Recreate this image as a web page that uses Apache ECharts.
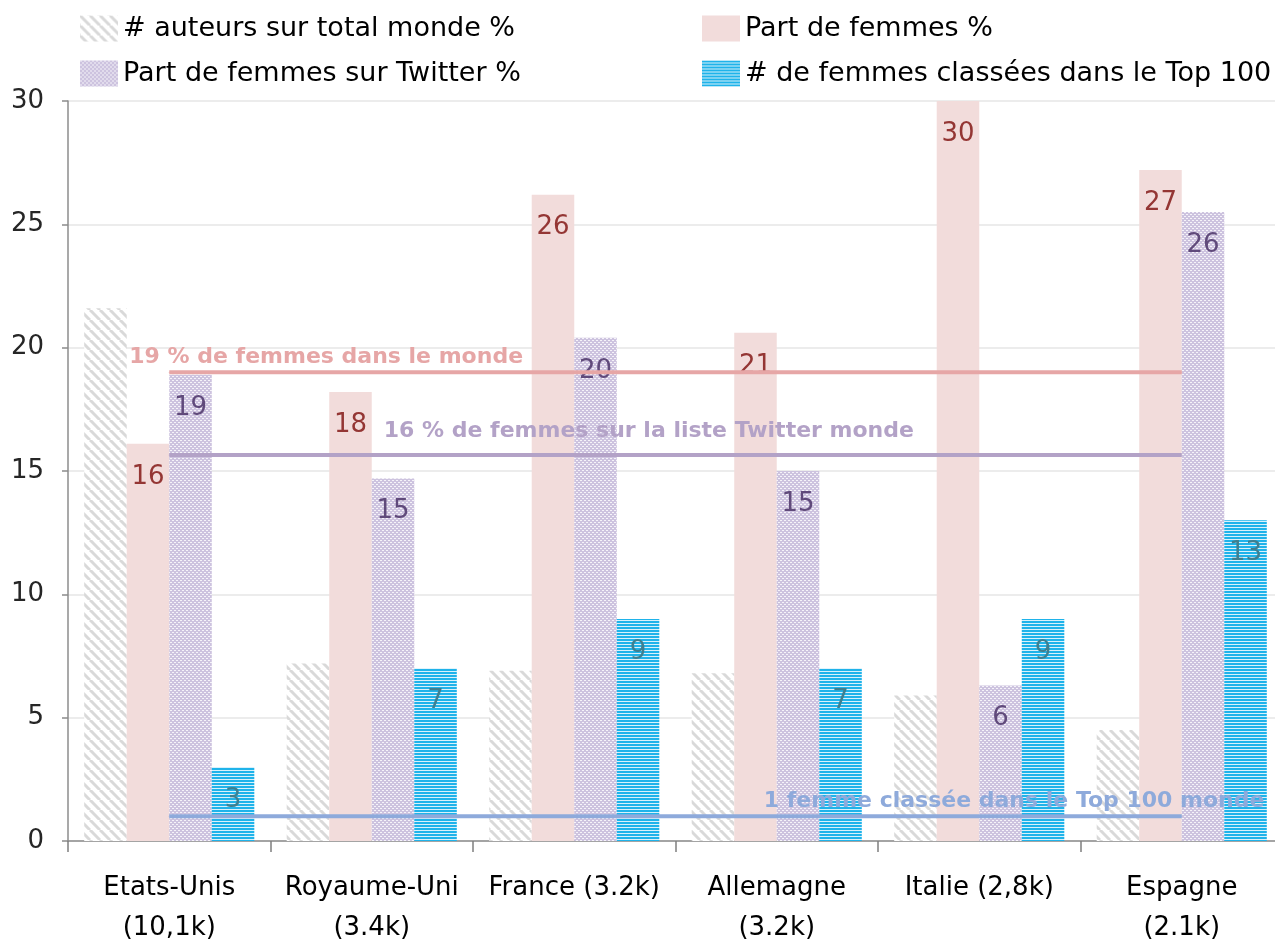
<!DOCTYPE html>
<html>
<head>
<meta charset="utf-8">
<script src="https://cdn.jsdelivr.net/npm/echarts@6/dist/echarts.min.js"></script>
<style>
  html, body { margin: 0; padding: 0; background: #fff; }
  #main { width: 1275px; height: 942px; }
</style>
</head>
<body>
<div id="main"></div>
<script>
var chart = echarts.init(document.getElementById('main'), null, { renderer: 'canvas' });

// données
var categories = ['Etats-Unis\n(10,1k)', 'Royaume-Uni\n(3.4k)', 'France (3.2k)', 'Allemagne\n(3.2k)', 'Italie (2,8k)', 'Espagne\n(2.1k)'];
var auteurs = [21.6, 7.2, 6.9, 6.8, 5.9, 4.5];
var femmes = [16.1, 18.2, 26.2, 20.6, 30, 27.2];
var twitter = [18.9, 14.7, 20.4, 15.0, 6.3, 25.5];
var top100 = [3, 7, 9, 7, 9, 13];
var refMonde = [19, 19, 19, 19, 19, 19];
var refTwitter = [15.65, 15.65, 15.65, 15.65, 15.65, 15.65];
var refTop = [1, 1, 1, 1, 1, 1];
var yTicks = [0, 5, 10, 15, 20, 25, 30];

var FONT = 'DejaVu Sans';

// motifs de remplissage
function makePattern(w, h, draw) {
  var c = document.createElement('canvas');
  c.width = w;
  c.height = h;
  draw(c.getContext('2d'), w, h);
  return { image: c, repeat: 'repeat' };
}

var hatch = makePattern(10, 10, function (ctx, s) {
  ctx.fillStyle = '#ffffff';
  ctx.fillRect(0, 0, s, s);
  ctx.strokeStyle = '#d9d9d9';
  ctx.lineWidth = 3;
  [-s, 0, s].forEach(function (x0) {
    ctx.beginPath();
    ctx.moveTo(x0, 0);
    ctx.lineTo(x0 + s, s);
    ctx.stroke();
  });
});

var dots = makePattern(4, 4, function (ctx) {
  ctx.fillStyle = '#cdc3df';
  ctx.fillRect(0, 0, 4, 4);
  ctx.fillStyle = 'rgba(255,255,255,0.8)';
  ctx.fillRect(0, 0, 2, 1);
  ctx.fillRect(2, 2, 2, 1);
});

var stripes = makePattern(4, 3, function (ctx) {
  ctx.fillStyle = '#1fb3ea';
  ctx.fillRect(0, 0, 4, 2);
  ctx.fillStyle = '#d8f1fb';
  ctx.fillRect(0, 2, 4, 1);
});

function barLabel(color) {
  return {
    show: true,
    position: 'insideTop',
    distance: 20,
    color: color,
    fontFamily: FONT,
    fontSize: 26,
    formatter: function (p) { return Math.round(p.value); }
  };
}

function refLine(name, data, color, idx, text, dx, dy) {
  var d = data.map(function (v, i) {
    if (i !== idx) return v;
    return {
      value: v,
      label: {
        show: true,
        position: 'top',
        align: 'left',
        distance: 4,
        offset: [dx, dy],
        formatter: text,
        color: color,
        fontFamily: FONT,
        fontWeight: 'bold',
        fontSize: 22
      }
    };
  });
  return {
    name: name,
    type: 'line',
    data: d,
    symbol: 'circle',
    symbolSize: 1,
    showSymbol: true,
    z: 5,
    itemStyle: { color: color },
    lineStyle: { color: color, width: 4 },
    label: { show: false },
    emphasis: { disabled: true }
  };
}

var legendText = { fontFamily: FONT, fontSize: 27, color: '#000' };

option = {
  animation: false,
  backgroundColor: '#ffffff',
  legend: [
    {
      orient: 'vertical',
      left: 80,
      top: 15,
      padding: 0,
      icon: 'rect',
      itemWidth: 38,
      itemHeight: 26,
      itemGap: 18,
      textStyle: legendText,
      data: ['# auteurs sur total monde %', 'Part de femmes sur Twitter %']
    },
    {
      orient: 'vertical',
      left: 702,
      top: 15,
      padding: 0,
      icon: 'rect',
      itemWidth: 38,
      itemHeight: 26,
      itemGap: 18,
      textStyle: legendText,
      data: ['Part de femmes %', '# de femmes classées dans le Top 100']
    }
  ],
  grid: {
    left: 68,
    right: -8,
    top: 101,
    bottom: 101,
    containLabel: false,
    outerBoundsMode: 'none'
  },
  xAxis: {
    type: 'category',
    data: categories,
    axisLine: { lineStyle: { color: '#8c8c8c', width: 1.5 } },
    axisTick: { show: true, interval: 0, length: 11, lineStyle: { color: '#7f7f7f', width: 1.5 } },
    axisLabel: {
      color: '#000',
      fontFamily: FONT,
      fontSize: 26,
      lineHeight: 40,
      margin: 27,
      interval: 0
    }
  },
  yAxis: {
    type: 'value',
    min: yTicks[0],
    max: yTicks[yTicks.length - 1],
    interval: 5,
    axisLine: { show: true, lineStyle: { color: '#8c8c8c', width: 1.5 } },
    axisTick: { show: true, length: 6, lineStyle: { color: '#8c8c8c', width: 1.5 } },
    axisLabel: { color: '#262626', fontFamily: FONT, fontSize: 26, margin: 24 },
    splitLine: { lineStyle: { color: '#e6e6e6', width: 1.5 } }
  },
  series: [
    {
      name: '# auteurs sur total monde %',
      type: 'bar',
      data: auteurs,
      barGap: '0%',
      barCategoryGap: '16%',
      itemStyle: { color: hatch }
    },
    {
      name: 'Part de femmes %',
      type: 'bar',
      data: femmes,
      itemStyle: { color: '#f2dcdb' },
      label: barLabel('#943634')
    },
    {
      name: 'Part de femmes sur Twitter %',
      type: 'bar',
      data: twitter,
      itemStyle: { color: dots },
      label: barLabel('#604a7b')
    },
    {
      name: '# de femmes classées dans le Top 100',
      type: 'bar',
      data: top100,
      itemStyle: { color: stripes },
      label: barLabel('#3f7f8f')
    },
    refLine('ref19', refMonde, '#e6a6a6', 0, '19 % de femmes dans le monde', -40, 0),
    refLine('ref16', refTwitter, '#b3a2c7', 1, '16 % de femmes sur la liste Twitter monde', 12, -8),
    refLine('ref1', refTop, '#8eaadb', 3, '1 femme classée dans le Top 100 monde', -13, 0)
  ]
};

chart.setOption(option);
</script>
</body>
</html>
